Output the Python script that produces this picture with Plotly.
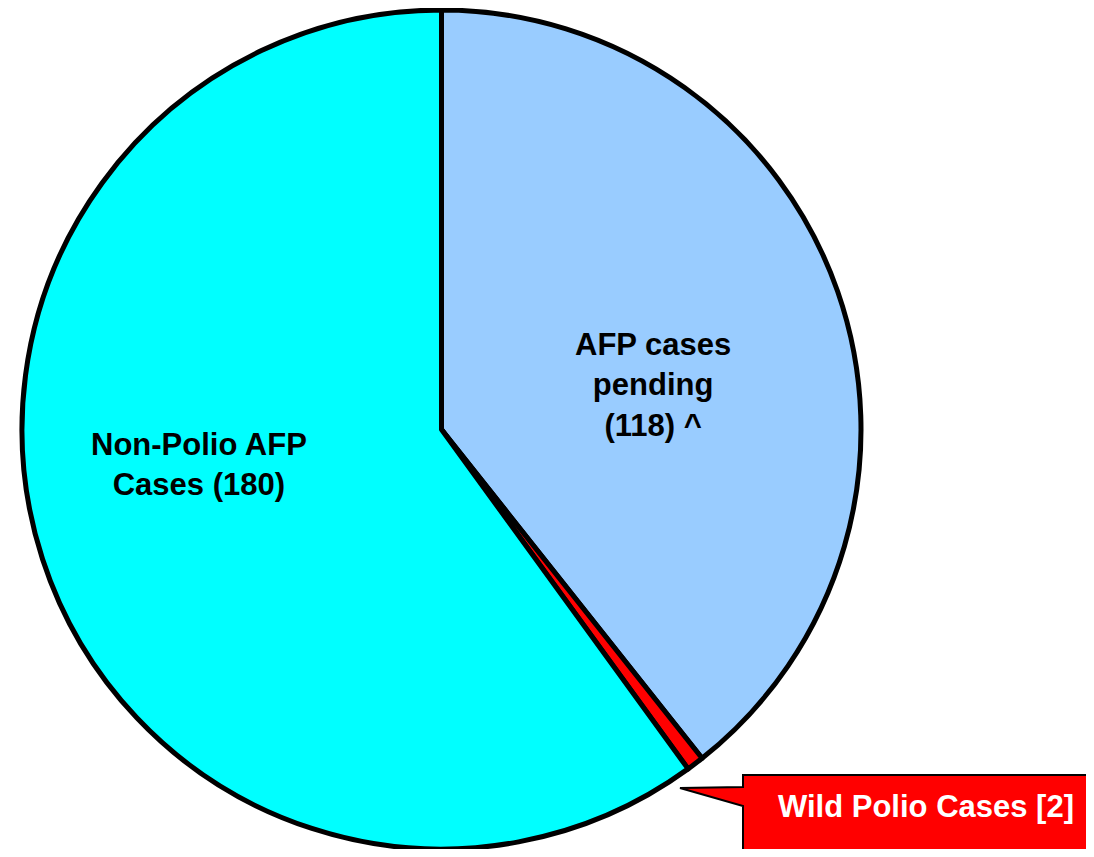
import plotly.graph_objects as go

# The page body has an 8px default margin, so the figure is drawn 8px in from
# the top-left corner; size it so the whole page fits the 1094x857 window.
OFF = 8
W, H = 1094 - 2 * OFF, 857 - 2 * OFF

categories = ["AFP cases pending", "Wild Polio Cases", "Non-Polio AFP Cases"]
values = [118, 2, 180]
colors = ["#99CCFF", "#FF0000", "#00FFFF"]

label_pending = "AFP cases<br>pending<br>(118) ^"
label_nonpolio = "Non-Polio AFP<br>Cases (180)"
label_wild = "Wild Polio Cases [2]"


def px(x):
    # x given in window pixels
    return (x - OFF) / W


def py(y):
    return 1 - (y - OFF) / H


top = 2  # figure px above pie domain
r = (H - top) / 2
cx = 441.5 - OFF

fig = go.Figure(
    go.Pie(
        labels=categories,
        values=values,
        sort=False,
        direction="clockwise",
        rotation=0,
        marker=dict(colors=colors, line=dict(color="black", width=5)),
        textinfo="none",
        hoverinfo="label+value",
        domain=dict(x=[(cx - r) / W, (cx + r) / W], y=[0, 1 - top / H]),
        showlegend=False,
    )
)

font = dict(family="Liberation Sans, Arial, sans-serif", size=31, color="black", weight="bold")

# callout box with pointer
path = (
    f"M {px(743)} {py(775)} L {px(1110)} {py(775)} L {px(1110)} {py(850)} "
    f"L {px(743)} {py(850)} L {px(743)} {py(806)} L {px(680)} {py(788)} "
    f"L {px(743)} {py(787)} Z"
)
fig.add_shape(
    type="path",
    path=path,
    xref="paper",
    yref="paper",
    fillcolor="#FF0000",
    line=dict(color="black", width=2),
    layer="above",
)

fig.add_annotation(
    x=px(653), y=py(385), xref="paper", yref="paper",
    text=label_pending, showarrow=False, font=font,
    xanchor="center", yanchor="middle", align="center",
)
fig.add_annotation(
    x=px(199), y=py(464), xref="paper", yref="paper",
    text=label_nonpolio, showarrow=False, font=font,
    xanchor="center", yanchor="middle", align="center",
)
fig.add_annotation(
    x=px(926), y=py(806), xref="paper", yref="paper",
    text=label_wild, showarrow=False,
    font=dict(family="Liberation Sans, Arial, sans-serif", size=31, color="white", weight="bold"),
    xanchor="center", yanchor="middle", align="center",
)

fig.update_layout(
    width=W,
    height=H,
    margin=dict(l=0, r=0, t=0, b=0),
    paper_bgcolor="white",
    plot_bgcolor="white",
)

fig.write_html("out.html")
